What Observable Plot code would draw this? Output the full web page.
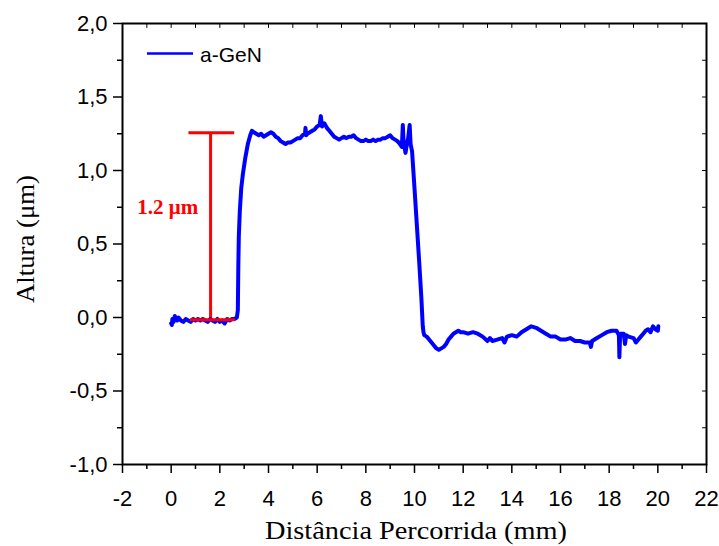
<!DOCTYPE html>
<html><head><meta charset="utf-8">
<script src="https://cdn.jsdelivr.net/npm/d3@7"></script>
<script src="https://cdn.jsdelivr.net/npm/@observablehq/plot@0.6"></script>
<style>body{margin:0;background:#fff} svg{display:block}</style>
</head><body><div id="c"></div>
<script>
const distance = [0.00,0.03,0.05,0.10,0.15,0.20,0.25,0.30,0.40,0.50,0.60,0.70,0.80,0.90,1.00,1.10,1.20,1.30,1.40,1.50,1.60,1.70,1.80,1.90,2.00,2.10,2.20,2.30,2.40,2.50,2.60,2.70,
2.74,2.76,2.78,2.82,2.88,2.95,3.05,3.15,3.25,3.32,3.40,3.50,3.60,3.70,3.80,3.90,4.00,4.10,4.20,4.30,4.40,4.50,4.60,4.70,4.80,4.90,5.00,5.10,5.20,5.30,5.40,5.50,5.52,5.55,5.60,5.70,5.80,5.90,6.00,6.10,6.15,6.20,6.30,6.40,6.50,6.60,6.70,6.80,6.90,7.00,7.10,7.20,7.30,7.40,7.50,7.60,7.70,7.80,7.90,8.00,8.10,8.20,8.30,8.40,8.50,8.60,8.70,8.80,8.90,9.00,9.10,9.20,9.30,9.40,9.48,9.52,9.56,9.60,9.63,9.68,9.74,9.80,9.84,9.90,10.00,10.10,10.20,10.28,10.34,10.37,
10.40,10.50,10.60,10.70,10.80,10.90,11.00,11.10,11.20,11.30,11.40,11.50,11.60,11.70,11.80,11.90,12.00,12.20,12.40,12.60,12.80,13.00,13.10,13.20,13.40,13.60,13.70,13.80,14.00,14.20,14.40,14.60,14.80,15.00,15.20,15.40,15.60,15.80,16.00,16.20,16.40,16.60,16.80,17.00,17.20,17.25,17.30,17.50,17.70,17.90,18.10,18.30,18.40,18.42,18.45,18.60,18.65,18.70,18.80,19.00,19.10,19.20,19.30,19.40,19.50,19.60,19.70,19.80,19.90,20.00,20.02];
const altura = [-0.04,-0.05,-0.01,-0.03,0.01,-0.01,-0.02,0.00,-0.02,-0.03,-0.01,-0.02,-0.03,-0.01,-0.02,-0.01,-0.02,-0.01,-0.02,-0.03,-0.01,-0.02,-0.03,-0.01,-0.03,-0.02,-0.04,-0.01,-0.02,-0.01,-0.01,0.00,
0.05,0.35,0.55,0.72,0.88,0.98,1.09,1.18,1.24,1.27,1.26,1.25,1.24,1.25,1.23,1.24,1.25,1.26,1.25,1.23,1.22,1.20,1.19,1.18,1.19,1.19,1.20,1.21,1.22,1.22,1.24,1.25,1.29,1.24,1.25,1.26,1.27,1.28,1.30,1.31,1.37,1.30,1.32,1.29,1.27,1.25,1.23,1.22,1.21,1.22,1.23,1.22,1.23,1.23,1.24,1.22,1.21,1.20,1.20,1.21,1.20,1.20,1.21,1.20,1.21,1.21,1.22,1.22,1.23,1.24,1.22,1.21,1.20,1.18,1.16,1.31,1.17,1.15,1.12,1.17,1.22,1.31,1.18,1.13,0.88,0.62,0.36,0.14,-0.06,-0.10,
-0.12,-0.13,-0.15,-0.17,-0.19,-0.21,-0.22,-0.21,-0.20,-0.18,-0.15,-0.13,-0.11,-0.10,-0.09,-0.10,-0.10,-0.11,-0.10,-0.11,-0.13,-0.16,-0.14,-0.16,-0.15,-0.14,-0.17,-0.13,-0.12,-0.13,-0.10,-0.08,-0.06,-0.07,-0.09,-0.11,-0.13,-0.13,-0.15,-0.15,-0.14,-0.16,-0.16,-0.17,-0.17,-0.20,-0.16,-0.14,-0.12,-0.10,-0.09,-0.09,-0.12,-0.27,-0.11,-0.11,-0.18,-0.12,-0.13,-0.14,-0.17,-0.15,-0.13,-0.11,-0.09,-0.08,-0.10,-0.06,-0.08,-0.09,-0.06];

const xMajor = [-2,0,2,4,6,8,10,12,14,16,18,20,22];
const xMinor = [-1,1,3,5,7,9,11,13,15,17,19,21];
const yMajor = [-1,-0.5,0,0.5,1,1.5,2];
const yMinor = [-0.75,-0.25,0.25,0.75,1.25,1.75];
const topTicks = [-1,0,1,2,3,4,5,6,7,8,9,10,11,12,13,14,15,16,17,18,19,20,21];
const rightTicks = [-0.75,-0.5,-0.25,0,0.25,0.5,0.75,1,1.25,1.5,1.75];
const seriesName = "a-GeN";
const stepLabel = "1.2 μm";
const stepX = [1.62];
const stepTop = [1.256];
const stepBottom = [-0.016];
const xLabel = "Distância Percorrida (mm)";
const yLabel = "Altura (μm)";

const data = distance.map((d, i) => ({x: d, y: altura[i]}));
const fmt = d => d.toFixed(1).replace(".", ",");
const tickShape = {draw(ctx, l) { ctx.moveTo(0, 0); ctx.lineTo(0, -l); }};
const sans = "'Liberation Sans', Arial, sans-serif";
const serif = "'Liberation Serif', 'Times New Roman', serif";

const chart = Plot.plot({
  width: 719, height: 546,
  marginLeft: 122, marginTop: 23, marginRight: 13, marginBottom: 82,
  x: {domain: [-2, 22]},
  y: {domain: [-1, 2]},
  style: {fontFamily: sans, background: "#fff", color: "#000"},
  marks: [
    Plot.axisX({ticks: xMajor, tickSize: 9, tickPadding: 17, fontSize: 22, tickFormat: d => String(d), label: null, strokeWidth: 1.5}),
    Plot.axisX({ticks: xMinor, tickSize: 5, tickFormat: () => "", label: null, strokeWidth: 1.5}),
    Plot.axisY({ticks: yMajor, tickSize: 9, tickPadding: 6, fontSize: 22, tickFormat: fmt, label: null, strokeWidth: 1.5}),
    Plot.axisY({ticks: yMinor, tickSize: 5, tickFormat: () => "", label: null, strokeWidth: 1.5}),
    Plot.vector(topTicks, {x: d => d, frameAnchor: "top", length: 4, rotate: 180, anchor: "start", shape: tickShape, stroke: "#000", strokeWidth: 1}),
    Plot.vector(rightTicks, {y: d => d, frameAnchor: "right", length: 4, rotate: 270, anchor: "start", shape: tickShape, stroke: "#000", strokeWidth: 1}),
    Plot.frame({stroke: "#000", strokeWidth: 2}),
    Plot.ruleX(stepX, {x: d => d, y1: stepBottom[0], y2: stepTop[0], stroke: "#ff0000", strokeWidth: 3}),
    Plot.ruleY(stepTop, {y: d => d, x1: 0.73, x2: 2.61, stroke: "#ff0000", strokeWidth: 3}),
    Plot.line(data, {x: "x", y: "y", stroke: "#0000ff", strokeWidth: 4, strokeLinejoin: "round"}),
    Plot.ruleY(stepBottom, {y: d => d, x1: 0.79, x2: 2.64, stroke: "#ff0000", strokeWidth: 3}),
    Plot.text([stepLabel], {x: -0.14, y: 0.748, text: d => d, fill: "#ff0000", fontSize: 21, fontWeight: "bold", fontFamily: serif})
  ]
});
document.getElementById("c").appendChild(chart);
const svg = d3.select(chart);
svg.append("line").attr("x1", 147).attr("x2", 193).attr("y1", 53.5).attr("y2", 53.5).attr("stroke", "#0000ff").attr("stroke-width", 2.5);
svg.append("text").attr("x", 200).attr("y", 61.5).attr("text-anchor", "start").attr("font-family", sans).attr("font-size", 21).text(seriesName);
svg.append("text").attr("x", 416).attr("y", 539).attr("text-anchor", "middle").attr("font-family", serif).attr("font-size", 25).attr("textLength", 302).attr("lengthAdjust", "spacingAndGlyphs").text(xLabel);
svg.append("text").attr("transform", "translate(34,239) rotate(-90)").attr("text-anchor", "middle").attr("font-family", serif).attr("font-size", 25).attr("textLength", 128).attr("lengthAdjust", "spacingAndGlyphs").text(yLabel);
</script></body></html>
